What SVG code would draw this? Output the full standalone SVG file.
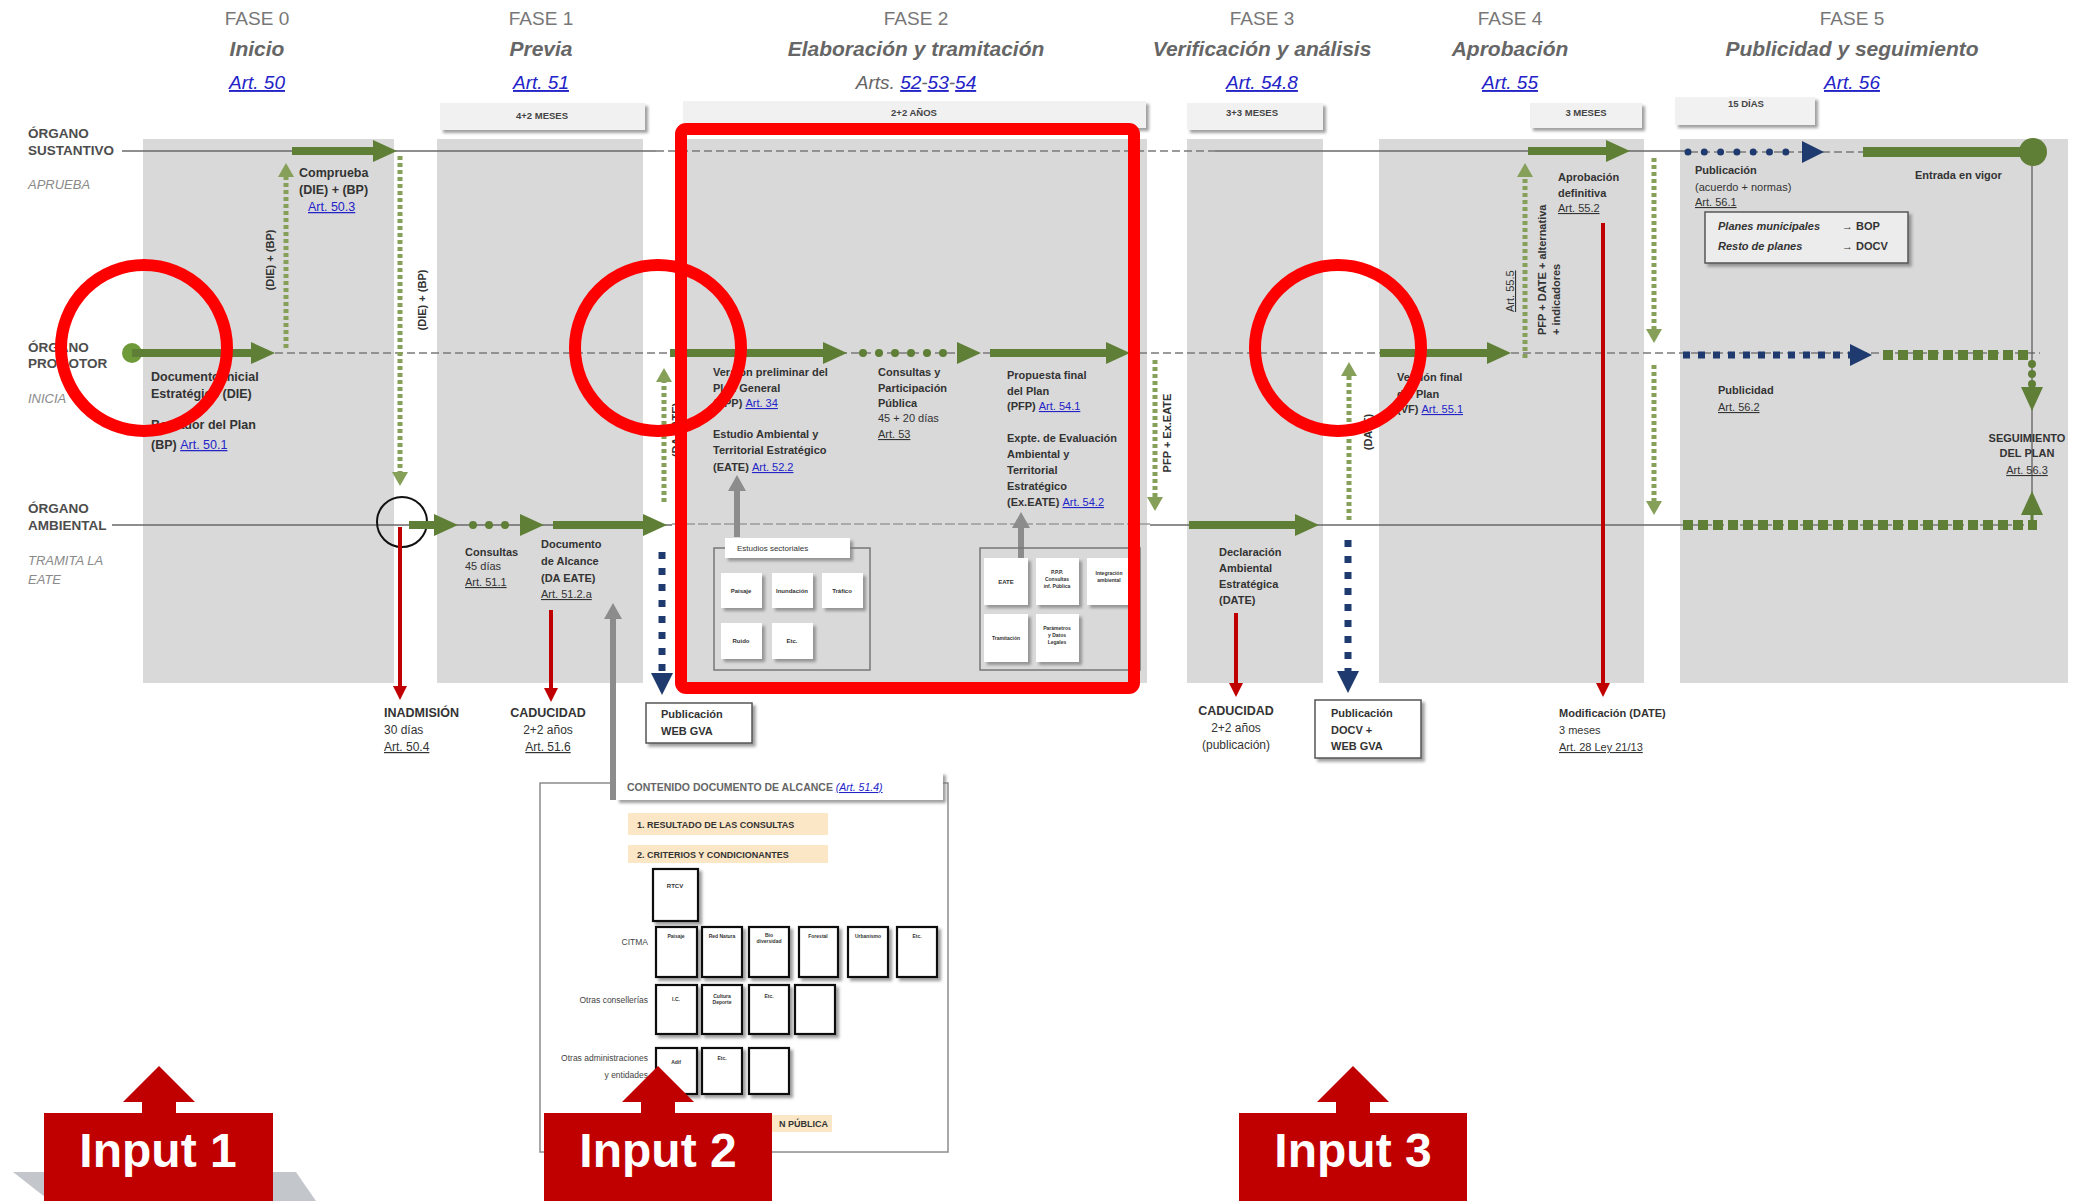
<svg xmlns="http://www.w3.org/2000/svg" width="2079" height="1201" viewBox="0 0 2079 1201">
<defs>
<style>
text{font-family:"Liberation Sans",Arial,sans-serif}
.fase{font-size:19px;fill:#777;text-anchor:middle}
.ft{font-size:21px;font-style:italic;font-weight:bold;fill:#666;text-anchor:middle}
.fa{font-size:19px;font-style:italic;fill:#666;text-anchor:middle}
.lk{fill:#2323c8;text-decoration:underline;font-weight:normal}
.lane{font-size:13.5px;font-weight:bold;fill:#4d4d4d}
.lanei{font-size:13px;font-style:italic;fill:#8a8a8a}
.t{font-size:12.5px;font-weight:bold;fill:#333}
.t2{font-size:11px;font-weight:bold;fill:#333}
.tn{font-size:12px;fill:#333}
.mid{text-anchor:middle}
.col{fill:#d9d9d9}
.dur{fill:#f1f1f1;filter:url(#sh)}
.durt{font-size:9.5px;font-weight:bold;fill:#444;text-anchor:middle}
.wbox{fill:#fff;filter:url(#sh)}
.bbox{fill:#fff;stroke:#555;stroke-width:1.5;filter:url(#sh)}
.kbox{fill:#fff;stroke:#111;stroke-width:2.2;filter:url(#sh)}
.tiny{font-size:6px;font-weight:bold;fill:#333;text-anchor:middle}
.tiny5{font-size:5px;font-weight:bold;fill:#333;text-anchor:middle}
.lnS{stroke:#6a6a6a;stroke-width:1.5;fill:none}
.lnD{stroke:#7a7a7a;stroke-width:1.5;stroke-dasharray:8 4;fill:none}
.lnL{stroke:#9a9a9a;stroke-width:1.5;stroke-dasharray:10 3;fill:none}
.tg{stroke:#5f7f36;stroke-width:8;fill:none;marker-end:url(#gh)}
.gdot{stroke:#5f7f36;stroke-width:8;stroke-linecap:round;stroke-dasharray:0 16;fill:none;marker-end:url(#gh)}
.gd{stroke:#86a05a;stroke-width:5;stroke-dasharray:4 3;fill:none;marker-end:url(#gdh)}
.bd{stroke:#1f3a6e;stroke-width:7;stroke-dasharray:7 9;fill:none;marker-end:url(#bh)}
.bdh{stroke:#1f3a6e;stroke-width:7;stroke-dasharray:7 8;fill:none;marker-end:url(#bh)}
.bdr{stroke:#1f3a6e;stroke-width:7;stroke-linecap:round;stroke-dasharray:0 16.3;fill:none;marker-end:url(#bh)}
.rd{stroke:#c00000;stroke-width:4;fill:none;marker-end:url(#rh)}
.gy{stroke:#8c8c8c;stroke-width:6;fill:none;marker-end:url(#gyh)}
.gsq{stroke:#5f7f36;stroke-width:10;stroke-dasharray:10 5;fill:none}
.hl{fill:none;stroke:#ff0000;stroke-width:12}
.inp{fill:#c00000}
.inpt{font-size:48px;font-weight:bold;fill:#fff;text-anchor:middle}
.beige{fill:#fbe7c6}
.bt{font-size:9px;font-weight:bold;fill:#333}
.side{font-size:8.5px;fill:#444;text-anchor:end}
</style>
<filter id="sh" x="-20%" y="-20%" width="150%" height="160%"><feDropShadow dx="3" dy="3" stdDeviation="1.5" flood-color="#777" flood-opacity="0.7"/></filter>
<marker id="gh" markerUnits="userSpaceOnUse" markerWidth="24" markerHeight="22" refX="0" refY="11" orient="auto" overflow="visible"><path d="M0,0 L24,11 L0,22 z" fill="#5f7f36"/></marker>
<marker id="gdh" markerUnits="userSpaceOnUse" markerWidth="14" markerHeight="16" refX="0" refY="8" orient="auto" overflow="visible"><path d="M0,0 L14,8 L0,16 z" fill="#86a05a"/></marker>
<marker id="bh" markerUnits="userSpaceOnUse" markerWidth="22" markerHeight="22" refX="0" refY="11" orient="auto" overflow="visible"><path d="M0,0 L22,11 L0,22 z" fill="#1f3a6e"/></marker>
<marker id="rh" markerUnits="userSpaceOnUse" markerWidth="14" markerHeight="14" refX="0" refY="7" orient="auto" overflow="visible"><path d="M0,0 L14,7 L0,14 z" fill="#c00000"/></marker>
<marker id="gyh" markerUnits="userSpaceOnUse" markerWidth="16" markerHeight="18" refX="0" refY="9" orient="auto" overflow="visible"><path d="M0,0 L16,9 L0,18 z" fill="#8c8c8c"/></marker>
</defs>
<rect width="2079" height="1201" fill="#fff"/>

<g id="columns">
<rect class="col" x="143" y="139" width="251" height="544"/>
<rect class="col" x="437" y="139" width="206" height="544"/>
<rect class="col" x="683" y="139" width="464" height="544"/>
<rect class="col" x="1187" y="139" width="136" height="544"/>
<rect class="col" x="1379" y="139" width="265" height="544"/>
<rect class="col" x="1680" y="139" width="388" height="544"/>
</g>

<g id="headers">
<g id="fase0"><text class="fase" x="257" y="25">FASE 0</text><text class="ft" x="257" y="56">Inicio</text><text class="fa lk" x="257" y="89">Art. 50</text></g>
<g id="fase1"><text class="fase" x="541" y="25">FASE 1</text><text class="ft" x="541" y="56">Previa</text><text class="fa lk" x="541" y="89">Art. 51</text></g>
<g id="fase2"><text class="fase" x="916" y="25">FASE 2</text><text class="ft" x="916" y="56">Elaboración y tramitación</text><text class="fa" x="916" y="89">Arts. <tspan class="lk">52</tspan>-<tspan class="lk">53</tspan>-<tspan class="lk">54</tspan></text></g>
<g id="fase3"><text class="fase" x="1262" y="25">FASE 3</text><text class="ft" x="1262" y="56">Verificación y análisis</text><text class="fa lk" x="1262" y="89">Art. 54.8</text></g>
<g id="fase4"><text class="fase" x="1510" y="25">FASE 4</text><text class="ft" x="1510" y="56">Aprobación</text><text class="fa lk" x="1510" y="89">Art. 55</text></g>
<g id="fase5"><text class="fase" x="1852" y="25">FASE 5</text><text class="ft" x="1852" y="56">Publicidad y seguimiento</text><text class="fa lk" x="1852" y="89">Art. 56</text></g>
</g>

<g id="durations">
<g id="dur1"><rect class="dur" x="440" y="103" width="205" height="27"/><text class="durt" x="542" y="119">4+2 MESES</text></g>
<g id="dur2"><rect class="dur" x="683" y="101" width="463" height="27"/><text class="durt" x="914" y="116">2+2 AÑOS</text></g>
<g id="dur3"><rect class="dur" x="1187" y="103" width="136" height="27"/><text class="durt" x="1252" y="116">3+3 MESES</text></g>
<g id="dur4"><rect class="dur" x="1530" y="103" width="112" height="25"/><text class="durt" x="1586" y="116">3 MESES</text></g>
<g id="dur5"><rect class="dur" x="1675" y="97" width="140" height="28"/><text class="durt" x="1746" y="107">15 DÍAS</text></g>
</g>

<g id="lanes">
<g id="lane-sustantivo"><text class="lane" x="28" y="138">ÓRGANO</text><text class="lane" x="28" y="155">SUSTANTIVO</text><text class="lanei" x="28" y="189">APRUEBA</text></g>
<g id="lane-promotor"><text class="lane" x="28" y="352">ÓRGANO</text><text class="lane" x="28" y="368">PROMOTOR</text><text class="lanei" x="28" y="403">INICIA</text></g>
<g id="lane-ambiental"><text class="lane" x="28" y="513">ÓRGANO</text><text class="lane" x="28" y="530">AMBIENTAL</text><text class="lanei" x="28" y="565">TRAMITA LA</text><text class="lanei" x="28" y="584">EATE</text></g>
<path class="lnS" d="M122,151 H656 M1215,151 H1690"/>
<path class="lnD" d="M656,151 H1215 M1690,152 H1870"/>
<path class="lnD" d="M275,353 H2040"/>
<path class="lnS" d="M112,525 H672 M1150,525 H1680"/>
<path class="lnL" d="M672,524 H1150"/>
<path class="lnD" d="M1680,525 H2040"/>
<path d="M2032,152 V523" stroke="#555" stroke-width="1.2" fill="none"/>
</g>

<g id="connectors">
<circle cx="132" cy="353" r="10" fill="#6f9a3a"/>
<path class="tg" d="M132,353 H251"/>
<path class="gd" d="M286,348 V177"/>
<path class="tg" d="M292,151 H373"/>
<path class="gd" d="M400,156 V472"/>
<circle cx="402" cy="522" r="25" fill="none" stroke="#111" stroke-width="2"/>
<path class="rd" d="M400,527 V686"/>
<path class="tg" d="M409,525 H434"/>
<path class="gdot" d="M473,525 H520"/>
<path class="tg" d="M553,525 H643"/>
<path class="rd" d="M551,610 V688"/>
<path class="gy" d="M613,800 V619"/>
<path class="gd" d="M664,502 V382"/>
<path class="bd" d="M662,552 V673"/>
<path class="tg" d="M670,353 H823"/>
<path class="gdot" d="M863,353 H957"/>
<path class="tg" d="M990,353 H1106"/>
<path class="gy" d="M737,537 V491"/>
<path class="gy" d="M1021,558 V528"/>
<path class="gd" d="M1155,360 V497"/>
<path class="tg" d="M1189,525 H1295"/>
<path class="rd" d="M1236,613 V683"/>
<path class="gd" d="M1349,520 V376"/>
<path class="bd" d="M1348,540 V671"/>
<path class="tg" d="M1380,353 H1487"/>
<path class="gd" d="M1525,358 V177"/>
<path class="tg" d="M1528,151 H1606"/>
<path class="rd" d="M1603,223 V683"/>
<path class="gd" d="M1654,158 V329"/>
<path class="gd" d="M1654,365 V501"/>
<path class="bdr" d="M1688,152 H1802"/>
<path d="M1863,152 H2033" stroke="#5f7f36" stroke-width="10" fill="none"/>
<circle cx="2033" cy="152" r="14" fill="#5f7f36"/>
<path class="bdh" d="M1683,355 H1850"/>
<path class="gsq" d="M1883,355 H2030"/>
<path class="gdot" d="M2032,364 V387" style="stroke-dasharray:0 10"/>
<path class="tg" d="M2032,523 V515" style="stroke-width:3"/>
<path class="gsq" d="M1683,525 H2037"/>
</g>

<g id="n-fase0">
<text class="t" x="299" y="177">Comprueba</text>
<text class="t" x="299" y="194">(DIE) + (BP)</text>
<text class="t" x="308" y="211"><tspan class="lk">Art. 50.3</tspan></text>
<text class="t2 mid" transform="translate(274,260) rotate(-90)">(DIE) + (BP)</text>
<text class="t2 mid" transform="translate(426,300) rotate(-90)">(DIE) + (BP)</text>
<text class="t" x="151" y="381">Documento Inicial</text>
<text class="t" x="151" y="398">Estratégico  (DIE)</text>
<text class="t" x="151" y="429">Borrador del Plan</text>
<text class="t" x="151" y="449">(BP) <tspan class="lk">Art. 50.1</tspan></text>
<text class="t" x="384" y="717">INADMISIÓN</text>
<text class="tn" x="384" y="734">30 días</text>
<text class="tn lk" x="384" y="751">Art. 50.4</text>
</g>

<g id="n-fase1">
<text class="t2" x="465" y="556">Consultas</text>
<text class="tn" x="465" y="570" style="font-size:11px">45 días</text>
<text class="tn lk" x="465" y="586" style="font-size:11px">Art. 51.1</text>
<text class="t2" x="541" y="548">Documento</text>
<text class="t2" x="541" y="565">de Alcance</text>
<text class="t2" x="541" y="582">(DA EATE)</text>
<text class="tn lk" x="541" y="598" style="font-size:11px">Art. 51.2.a</text>
<text class="t mid" x="548" y="717">CADUCIDAD</text>
<text class="tn mid" x="548" y="734">2+2 años</text>
<text class="tn mid lk" x="548" y="751">Art. 51.6</text>
<text class="t2 mid" transform="translate(680,430) rotate(-90)">(DA EATE)</text>
</g>

<g id="n-pubweb">
<rect class="bbox" x="646" y="703" width="106" height="40"/>
<text class="t2" x="661" y="718">Publicación</text>
<text class="t2" x="661" y="735">WEB GVA</text>
</g>

<g id="n-fase2">
<text class="t2" x="713" y="376">Versión preliminar del</text>
<text class="t2" x="713" y="392">Plan General</text>
<text class="t2" x="713" y="407">(VPP) <tspan class="lk">Art. 34</tspan></text>
<text class="t2" x="713" y="438">Estudio Ambiental y</text>
<text class="t2" x="713" y="454">Territorial Estratégico</text>
<text class="t2" x="713" y="471">(EATE) <tspan class="lk">Art. 52.2</tspan></text>
<text class="t2" x="878" y="376">Consultas y</text>
<text class="t2" x="878" y="392">Participación</text>
<text class="t2" x="878" y="407">Pública</text>
<text class="tn" x="878" y="422" style="font-size:11px">45  + 20 días</text>
<text class="tn lk" x="878" y="438" style="font-size:11px">Art. 53</text>
<text class="t2" x="1007" y="379">Propuesta final</text>
<text class="t2" x="1007" y="395">del Plan</text>
<text class="t2" x="1007" y="410">(PFP) <tspan class="lk">Art. 54.1</tspan></text>
<text class="t2" x="1007" y="442">Expte. de Evaluación</text>
<text class="t2" x="1007" y="458">Ambiental y</text>
<text class="t2" x="1007" y="474">Territorial</text>
<text class="t2" x="1007" y="490">Estratégico</text>
<text class="t2" x="1007" y="506">(Ex.EATE) <tspan class="lk">Art. 54.2</tspan></text>
</g>

<g id="n-estudios">
<rect x="714" y="548" width="156" height="122" fill="none" stroke="#777" stroke-width="1.5"/>
<rect class="wbox" x="725" y="538" width="125" height="20"/>
<text x="737" y="551" style="font-size:8px;fill:#333">Estudios sectoriales</text>
<rect class="wbox" x="721" y="573" width="41" height="35"/><text class="tiny" x="741" y="593">Paisaje</text>
<rect class="wbox" x="772" y="573" width="41" height="35"/><text class="tiny" x="792" y="593">Inundación</text>
<rect class="wbox" x="822" y="573" width="41" height="35"/><text class="tiny" x="842" y="593">Tráfico</text>
<rect class="wbox" x="721" y="623" width="41" height="36"/><text class="tiny" x="741" y="643">Ruido</text>
<rect class="wbox" x="772" y="623" width="41" height="36"/><text class="tiny" x="792" y="643">Etc.</text>
</g>

<g id="n-expediente">
<rect x="980" y="548" width="160" height="122" fill="none" stroke="#777" stroke-width="1.5"/>
<rect class="wbox" x="984" y="558" width="44" height="47"/><text class="tiny" x="1006" y="584">EATE</text>
<rect class="wbox" x="1036" y="558" width="43" height="47"/><text class="tiny5" x="1057" y="574">P.P.P.</text><text class="tiny5" x="1057" y="581">Consultas</text><text class="tiny5" x="1057" y="588">inf. Pública</text>
<rect class="wbox" x="1087" y="558" width="45" height="47"/><text class="tiny5" x="1109" y="575">Integración</text><text class="tiny5" x="1109" y="582">ambiental</text>
<rect class="wbox" x="984" y="614" width="44" height="48"/><text class="tiny5" x="1006" y="640">Tramitación</text>
<rect class="wbox" x="1036" y="614" width="43" height="48"/><text class="tiny5" x="1057" y="630">Parámetros</text><text class="tiny5" x="1057" y="637">y Datos</text><text class="tiny5" x="1057" y="644">Legales</text>
</g>

<g id="n-fase3">
<text class="t2 mid" transform="translate(1171,433) rotate(-90)">PFP + Ex.EATE</text>
<text class="t2 mid" transform="translate(1372,432) rotate(-90)">(DATE)</text>
<text class="t2" x="1219" y="556">Declaración</text>
<text class="t2" x="1219" y="572">Ambiental</text>
<text class="t2" x="1219" y="588">Estratégica</text>
<text class="t2" x="1219" y="604">(DATE)</text>
<text class="t mid" x="1236" y="715">CADUCIDAD</text>
<text class="tn mid" x="1236" y="732">2+2 años</text>
<text class="tn mid" x="1236" y="749">(publicación)</text>
</g>

<g id="n-pubdocv">
<rect class="bbox" x="1315" y="700" width="106" height="58"/>
<text class="t2" x="1331" y="717">Publicación</text>
<text class="t2" x="1331" y="734">DOCV  +</text>
<text class="t2" x="1331" y="750">WEB GVA</text>
</g>

<g id="n-fase4">
<text class="t2" x="1397" y="381">Versión final</text>
<text class="t2" x="1397" y="398">del Plan</text>
<text class="t2" x="1397" y="413">(VF) <tspan class="lk">Art. 55.1</tspan></text>
<text class="tn lk" transform="translate(1514,312) rotate(-90)" style="font-size:11px">Art. 55.5</text>
<text class="t2" transform="translate(1546,335) rotate(-90)">PFP + DATE + alternativa</text>
<text class="t2" transform="translate(1560,335) rotate(-90)">+ indicadores</text>
<text class="t2" x="1558" y="181">Aprobación</text>
<text class="t2" x="1558" y="197">definitiva</text>
<text class="tn lk" x="1558" y="212" style="font-size:11px">Art. 55.2</text>
<text class="t2" x="1559" y="717">Modificación (DATE)</text>
<text class="tn" x="1559" y="734" style="font-size:11px">3 meses</text>
<text class="tn lk" x="1559" y="751" style="font-size:11px">Art. 28 Ley 21/13</text>
</g>

<g id="n-fase5">
<text class="t2" x="1695" y="174">Publicación</text>
<text class="tn" x="1695" y="191" style="font-size:11px">(acuerdo + normas)</text>
<text class="tn lk" x="1695" y="206" style="font-size:11px">Art. 56.1</text>
<text class="t2" x="1915" y="179">Entrada en vigor</text>
<rect class="bbox" x="1705" y="212" width="203" height="51" style="fill:#ececec"/>
<text class="t2" x="1718" y="230" style="font-style:italic">Planes municipales</text><text class="t2" x="1842" y="230">→ BOP</text>
<text class="t2" x="1718" y="250" style="font-style:italic">Resto de planes</text><text class="t2" x="1842" y="250">→ DOCV</text>
<text class="t2" x="1718" y="394">Publicidad</text>
<text class="tn lk" x="1718" y="411" style="font-size:11px">Art. 56.2</text>
<text class="t2 mid" x="2027" y="442">SEGUIMIENTO</text>
<text class="t2 mid" x="2027" y="457">DEL PLAN</text>
<text class="tn mid lk" x="2027" y="474" style="font-size:11px">Art. 56.3</text>
</g>

<g id="n-contenido">
<rect x="540" y="783" width="408" height="369" fill="#fff" stroke="#8c8c8c" stroke-width="1.5"/>
<rect class="wbox" x="616" y="772" width="327" height="28"/>
<path d="M613,772 V800" stroke="#8c8c8c" stroke-width="6"/>
<text x="627" y="791" style="font-size:10.5px;font-weight:bold;fill:#666">CONTENIDO DOCUMENTO DE ALCANCE <tspan class="lk" style="font-style:italic">(Art. 51.4)</tspan></text>
<rect class="beige" x="628" y="813" width="200" height="22"/>
<text class="bt" x="637" y="828">1.  RESULTADO DE LAS CONSULTAS</text>
<rect class="beige" x="628" y="845" width="200" height="18"/>
<text class="bt" x="637" y="858">2.  CRITERIOS  Y  CONDICIONANTES</text>
<rect class="kbox" x="653" y="869" width="45" height="52"/><text class="tiny" x="675" y="888">RTCV</text>
<text class="side" x="648" y="945">CITMA</text>
<rect class="kbox" x="656" y="927" width="41" height="50"/><text class="tiny5" x="676" y="938">Paisaje</text>
<rect class="kbox" x="702" y="927" width="40" height="50"/><text class="tiny5" x="722" y="938">Red Natura</text>
<rect class="kbox" x="749" y="927" width="40" height="50"/><text class="tiny5" x="769" y="937">Bio</text><text class="tiny5" x="769" y="943">diversidad</text>
<rect class="kbox" x="799" y="927" width="39" height="50"/><text class="tiny5" x="818" y="938">Forestal</text>
<rect class="kbox" x="848" y="927" width="40" height="50"/><text class="tiny5" x="868" y="938">Urbanismo</text>
<rect class="kbox" x="897" y="927" width="40" height="50"/><text class="tiny5" x="917" y="938">Etc.</text>
<text class="side" x="648" y="1003">Otras consellerías</text>
<rect class="kbox" x="656" y="985" width="41" height="49"/><text class="tiny5" x="676" y="1001">I.C.</text>
<rect class="kbox" x="702" y="985" width="40" height="49"/><text class="tiny5" x="722" y="998">Cultura</text><text class="tiny5" x="722" y="1004">Deporte</text>
<rect class="kbox" x="749" y="985" width="40" height="49"/><text class="tiny5" x="769" y="998">Etc.</text>
<rect class="kbox" x="795" y="985" width="40" height="49"/>
<text class="side" x="648" y="1061">Otras administraciones</text>
<text class="side" x="648" y="1078">y entidades</text>
<rect class="kbox" x="656" y="1048" width="41" height="46"/><text class="tiny5" x="676" y="1064">Adif</text>
<rect class="kbox" x="702" y="1048" width="40" height="46"/><text class="tiny5" x="722" y="1060">Etc.</text>
<rect class="kbox" x="749" y="1048" width="40" height="46"/>
<rect class="beige" x="772" y="1115" width="60" height="17"/>
<text class="bt" x="828" y="1127" text-anchor="end">N PÚBLICA</text>
</g>

<g id="highlights">
<rect class="hl" x="681" y="129" width="453" height="559" rx="5"/>
<circle class="hl" cx="144" cy="348" r="83"/>
<circle class="hl" cx="658" cy="348" r="83"/>
<circle class="hl" cx="1338" cy="348" r="83"/>
</g>

<g id="inputs">
<polygon points="13,1172 296,1172 316,1201 50,1201" fill="#c3c7cc"/>
<g id="input1"><polygon class="inp" points="142,1114 142,1102 123,1102 159,1066 195,1102 176,1102 176,1114"/><rect class="inp" x="44" y="1113" width="229" height="88"/><text class="inpt" x="158" y="1167">Input 1</text></g>
<g id="input2"><polygon class="inp" points="641,1114 641,1102 622,1102 658,1066 694,1102 675,1102 675,1114"/><rect class="inp" x="544" y="1113" width="228" height="88"/><text class="inpt" x="658" y="1167">Input 2</text></g>
<g id="input3"><polygon class="inp" points="1336,1114 1336,1102 1317,1102 1353,1066 1389,1102 1370,1102 1370,1114"/><rect class="inp" x="1239" y="1113" width="228" height="88"/><text class="inpt" x="1353" y="1167">Input 3</text></g>
</g>
</svg>
